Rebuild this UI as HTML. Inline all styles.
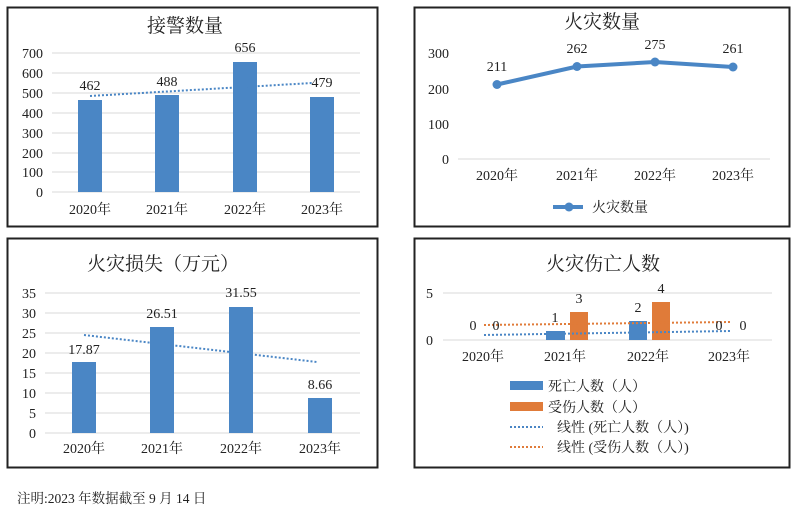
<!DOCTYPE html>
<html><head><meta charset="utf-8"><style>
body{margin:0;background:#fff}
svg{display:block}
text{font-family:"Liberation Serif","Noto Serif CJK SC",serif;fill:#222}
</style></head><body>
<svg width="800" height="515" viewBox="0 0 800 515">
<!-- Panel 1 -->
<rect x="7.5" y="7.5" width="370" height="219" fill="#fff" stroke="#222" stroke-width="2"/>
<text x="185" y="32" font-size="19" text-anchor="middle">接警数量</text>
<g stroke="#d9d9d9" stroke-width="1">
<line x1="52" y1="53" x2="360" y2="53"/><line x1="52" y1="73" x2="360" y2="73"/><line x1="52" y1="93" x2="360" y2="93"/><line x1="52" y1="113" x2="360" y2="113"/><line x1="52" y1="133" x2="360" y2="133"/><line x1="52" y1="153" x2="360" y2="153"/><line x1="52" y1="172" x2="360" y2="172"/><line x1="52" y1="192" x2="360" y2="192"/>
</g>
<g font-size="14" text-anchor="end">
<text x="43" y="58">700</text><text x="43" y="78">600</text><text x="43" y="98">500</text><text x="43" y="118">400</text><text x="43" y="138">300</text><text x="43" y="158">200</text><text x="43" y="177">100</text><text x="43" y="197">0</text>
</g>
<g fill="#4a86c5">
<rect x="78" y="100" width="24" height="92"/><rect x="155" y="95" width="24" height="97"/><rect x="233" y="62" width="24" height="130"/><rect x="310" y="97" width="24" height="95"/>
</g>
<line x1="90" y1="96" x2="312" y2="83" stroke="#4a86c5" stroke-width="2" stroke-dasharray="2,2"/>
<g font-size="14" text-anchor="middle">
<text x="90" y="90">462</text><text x="167" y="86">488</text><text x="245" y="52">656</text><text x="322" y="87">479</text>
</g>
<g font-size="14" text-anchor="middle">
<text x="90" y="214">2020年</text><text x="167" y="214">2021年</text><text x="245" y="214">2022年</text><text x="322" y="214">2023年</text>
</g>

<!-- Panel 2 -->
<rect x="414.5" y="7.5" width="375" height="219" fill="#fff" stroke="#222" stroke-width="2"/>
<text x="602" y="28" font-size="19" text-anchor="middle">火灾数量</text>
<line x1="458" y1="159" x2="770" y2="159" stroke="#d9d9d9"/>
<g font-size="14" text-anchor="end">
<text x="449" y="58">300</text><text x="449" y="94">200</text><text x="449" y="129">100</text><text x="449" y="164">0</text>
</g>
<polyline points="497,84.5 577,66.5 655,62 733,67" fill="none" stroke="#4a86c5" stroke-width="4"/>
<g fill="#4a86c5"><circle cx="497" cy="84.5" r="4.5"/><circle cx="577" cy="66.5" r="4.5"/><circle cx="655" cy="62" r="4.5"/><circle cx="733" cy="67" r="4.5"/></g>
<g font-size="14" text-anchor="middle">
<text x="497" y="71">211</text><text x="577" y="53">262</text><text x="655" y="49">275</text><text x="733" y="53">261</text>
<text x="497" y="180">2020年</text><text x="577" y="180">2021年</text><text x="655" y="180">2022年</text><text x="733" y="180">2023年</text>
</g>
<line x1="553" y1="207" x2="583" y2="207" stroke="#4a86c5" stroke-width="4"/>
<circle cx="569" cy="207" r="4.5" fill="#4a86c5"/>
<text x="592" y="212" font-size="14">火灾数量</text>

<!-- Panel 3 -->
<rect x="7.5" y="238.5" width="370" height="229" fill="#fff" stroke="#222" stroke-width="2"/>
<text x="163" y="270" font-size="19" text-anchor="middle">火灾损失（万元）</text>
<g stroke="#d9d9d9">
<line x1="45" y1="293" x2="360" y2="293"/><line x1="45" y1="313" x2="360" y2="313"/><line x1="45" y1="333" x2="360" y2="333"/><line x1="45" y1="353" x2="360" y2="353"/><line x1="45" y1="373" x2="360" y2="373"/><line x1="45" y1="393" x2="360" y2="393"/><line x1="45" y1="413" x2="360" y2="413"/><line x1="45" y1="433" x2="360" y2="433"/>
</g>
<g font-size="14" text-anchor="end">
<text x="36" y="298">35</text><text x="36" y="318">30</text><text x="36" y="338">25</text><text x="36" y="358">20</text><text x="36" y="378">15</text><text x="36" y="398">10</text><text x="36" y="418">5</text><text x="36" y="438">0</text>
</g>
<g fill="#4a86c5">
<rect x="72" y="362" width="24" height="71"/><rect x="150" y="327" width="24" height="106"/><rect x="229" y="307" width="24" height="126"/><rect x="308" y="398" width="24" height="35"/>
</g>
<line x1="84" y1="335" x2="317" y2="362" stroke="#4a86c5" stroke-width="2" stroke-dasharray="2,2"/>
<g font-size="14" text-anchor="middle">
<text x="84" y="354">17.87</text><text x="162" y="318">26.51</text><text x="241" y="297">31.55</text><text x="320" y="389">8.66</text>
<text x="84" y="453">2020年</text><text x="162" y="453">2021年</text><text x="241" y="453">2022年</text><text x="320" y="453">2023年</text>
</g>

<!-- Panel 4 -->
<rect x="414.5" y="238.5" width="375" height="229" fill="#fff" stroke="#222" stroke-width="2"/>
<text x="603" y="270" font-size="19" text-anchor="middle">火灾伤亡人数</text>
<line x1="443" y1="293" x2="772" y2="293" stroke="#d9d9d9"/>
<line x1="443" y1="340" x2="772" y2="340" stroke="#d9d9d9"/>
<g font-size="14" text-anchor="end"><text x="433" y="298">5</text><text x="433" y="345">0</text></g>
<rect x="546" y="331" width="19" height="9" fill="#4a86c5"/>
<rect x="570" y="312" width="18" height="28" fill="#e07b39"/>
<rect x="629" y="321" width="18" height="19" fill="#4a86c5"/>
<rect x="652" y="302" width="18" height="38" fill="#e07b39"/>
<line x1="484" y1="335" x2="730" y2="331" stroke="#4a86c5" stroke-width="2" stroke-dasharray="2,2"/>
<line x1="484" y1="325" x2="730" y2="322" stroke="#e07b39" stroke-width="2" stroke-dasharray="2,2"/>
<g font-size="14" text-anchor="middle">
<text x="473" y="330">0</text><text x="496" y="330">0</text>
<text x="555" y="322">1</text><text x="579" y="303">3</text>
<text x="638" y="312">2</text><text x="661" y="293">4</text>
<text x="719" y="330">0</text><text x="743" y="330">0</text>
<text x="483" y="361">2020年</text><text x="565" y="361">2021年</text><text x="648" y="361">2022年</text><text x="729" y="361">2023年</text>
</g>
<rect x="510" y="381" width="33" height="9" fill="#4a86c5"/>
<rect x="510" y="402" width="33" height="9" fill="#e07b39"/>
<line x1="510" y1="427" x2="543" y2="427" stroke="#4a86c5" stroke-width="2" stroke-dasharray="2,2"/>
<line x1="510" y1="447" x2="543" y2="447" stroke="#e07b39" stroke-width="2" stroke-dasharray="2,2"/>
<g font-size="14">
<text x="548" y="391">死亡人数（人）</text>
<text x="548" y="412">受伤人数（人）</text>
<text x="557" y="432">线性 (死亡人数（人）)</text>
<text x="557" y="452">线性 (受伤人数（人）)</text>
</g>

<text x="17" y="503" font-size="13.5">注明:2023 年数据截至 9 月 14 日</text>
</svg>
</body></html>
